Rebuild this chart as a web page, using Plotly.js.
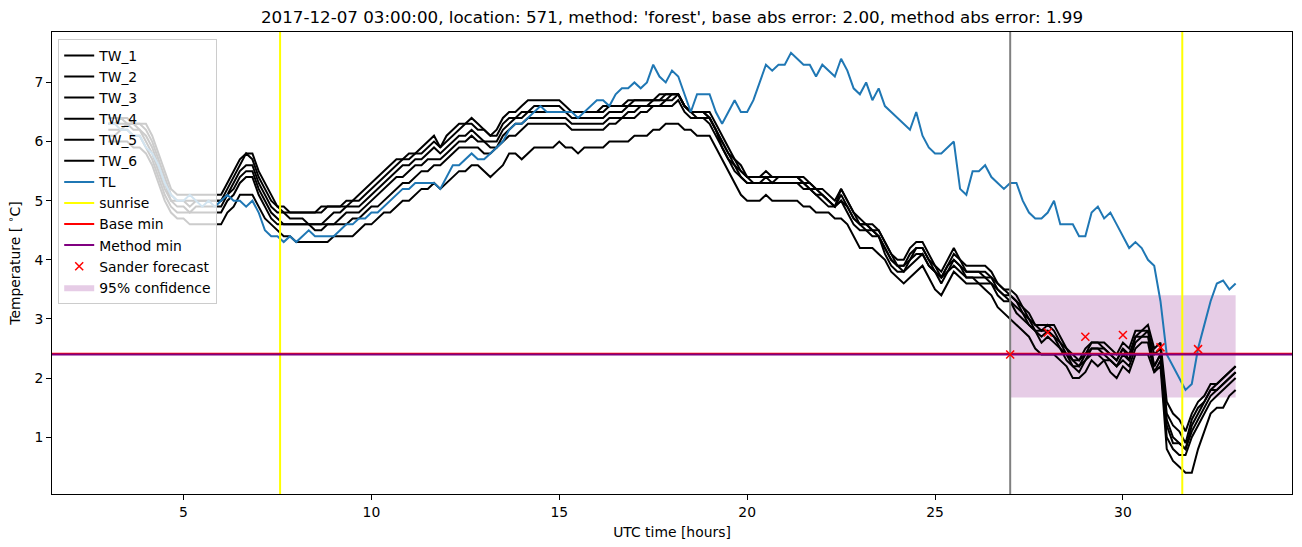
<!DOCTYPE html>
<html>
<head>
<meta charset="utf-8">
<script src="https://cdn.plot.ly/plotly-3.0.1.min.js"></script>
<style>html,body{margin:0;padding:0;background:#fff;}#chart{width:1302px;height:547px;}</style>
</head>
<body>
<div id="chart"></div>
<script>
// ---- data (10-minute samples from 03:00 to 33:00 UTC hours) ----
const START_HOUR = 3;
const STEP_HOURS = 1 / 6;

const TW_1 = [
6.4,6.4,6.4,6.4,6.3,6.3, 6.3,6.1,5.8,5.5,5.2,5.1, 5.1,5.1,5.1,5.1,5.1,5.1, 5.1,5.3,5.5,5.7,5.8,5.8,
5.5,5.3,5.1,4.9,4.9,4.8, 4.8,4.8,4.8,4.8,4.9,4.9, 4.9,4.9,5.0,5.0,5.1,5.2, 5.3,5.4,5.5,5.6,5.7,5.7,
5.8,5.8,5.9,6.0,6.1,5.9, 6.1,6.2,6.3,6.3,6.4,6.3, 6.2,6.1,6.2,6.4,6.5,6.5, 6.6,6.7,6.7,6.7,6.7,6.7,
6.7,6.6,6.5,6.5,6.5,6.5, 6.5,6.6,6.6,6.6,6.6,6.7, 6.7,6.7,6.7,6.7,6.8,6.8, 6.8,6.8,6.6,6.5,6.5,6.5,
6.5,6.3,6.1,5.9,5.7,5.6, 5.4,5.4,5.4,5.5,5.4,5.4, 5.4,5.4,5.4,5.4,5.3,5.2, 5.2,5.1,5.0,5.2,5.0,4.8,
4.7,4.6,4.6,4.5,4.3,4.1, 4.0,4.0,4.2,4.3,4.3,4.1, 3.9,3.8,4.0,4.2,4.0,3.9, 3.9,3.9,3.9,3.8,3.6,3.5,
3.5,3.4,3.2,3.1,2.9,2.9, 2.9,2.9,2.7,2.5,2.4,2.3, 2.5,2.6,2.6,2.6,2.5,2.4, 2.6,2.5,2.8,2.8,2.9,2.5,
2.6,1.6,1.4,1.3,1.1,1.4, 1.6,1.7,1.9,1.9,2.0,2.1, 2.2];
const TW_2 = [
6.3,6.3,6.4,6.3,6.3,6.3, 6.2,6.0,5.7,5.4,5.1,5.0, 5.0,5.0,5.0,5.0,5.0,5.0, 5.0,5.2,5.4,5.6,5.8,5.7,
5.4,5.2,5.0,4.9,4.8,4.8, 4.8,4.8,4.8,4.8,4.8,4.9, 4.9,4.9,4.9,5.0,5.0,5.1, 5.2,5.3,5.4,5.5,5.6,5.7,
5.7,5.8,5.8,5.9,6.0,5.9, 6.0,6.1,6.2,6.3,6.3,6.2, 6.2,6.1,6.1,6.3,6.4,6.4, 6.5,6.5,6.6,6.6,6.6,6.6,
6.6,6.5,6.5,6.5,6.5,6.5, 6.5,6.5,6.6,6.6,6.6,6.6, 6.7,6.7,6.7,6.7,6.7,6.8, 6.8,6.8,6.6,6.5,6.5,6.5,
6.4,6.2,6.0,5.8,5.7,5.5, 5.4,5.4,5.4,5.4,5.4,5.4, 5.4,5.4,5.4,5.3,5.3,5.2, 5.1,5.0,4.9,5.2,5.0,4.8,
4.6,4.6,4.5,4.5,4.3,4.1, 3.9,3.9,4.1,4.2,4.2,4.0, 3.9,3.7,3.9,4.1,4.0,3.8, 3.8,3.8,3.8,3.7,3.6,3.5,
3.4,3.3,3.2,3.0,2.9,2.8, 2.9,2.8,2.6,2.5,2.3,2.3, 2.4,2.6,2.6,2.5,2.4,2.3, 2.5,2.4,2.7,2.8,2.8,2.4,
2.5,1.4,1.2,1.1,0.9,1.3, 1.5,1.6,1.8,1.9,2.0,2.1, 2.2];
const TW_3 = [
6.3,6.3,6.3,6.3,6.3,6.2, 6.1,5.9,5.6,5.3,5.0,5.0, 5.0,4.9,5.0,5.0,5.0,5.0, 5.0,5.1,5.3,5.5,5.6,5.6,
5.3,5.1,4.9,4.8,4.8,4.7, 4.7,4.7,4.6,4.6,4.6,4.7, 4.8,4.8,4.9,4.9,4.9,5.0, 5.1,5.2,5.3,5.4,5.5,5.6,
5.6,5.7,5.7,5.8,5.9,5.8, 5.9,6.0,6.1,6.1,6.2,6.1, 6.0,6.0,6.0,6.2,6.3,6.4, 6.4,6.5,6.5,6.5,6.5,6.5,
6.5,6.5,6.4,6.4,6.4,6.4, 6.4,6.4,6.5,6.5,6.5,6.6, 6.6,6.6,6.6,6.7,6.7,6.7, 6.8,6.8,6.6,6.5,6.5,6.5,
6.4,6.2,6.0,5.8,5.6,5.5, 5.4,5.3,5.3,5.4,5.3,5.4, 5.4,5.4,5.4,5.3,5.2,5.2, 5.1,5.0,4.9,5.1,4.9,4.7,
4.6,4.6,4.5,4.4,4.2,4.0, 3.9,3.9,4.0,4.2,4.2,4.0, 3.8,3.7,3.9,4.0,3.9,3.8, 3.8,3.8,3.7,3.7,3.5,3.4,
3.4,3.3,3.1,3.0,2.8,2.8, 2.8,2.7,2.6,2.4,2.3,2.2, 2.4,2.5,2.5,2.5,2.4,2.3, 2.5,2.3,2.7,2.7,2.8,2.2,
2.4,1.3,1.0,0.9,0.8,1.2, 1.4,1.6,1.8,1.8,1.9,2.0, 2.1];
const TW_4 = [
6.2,6.2,6.2,6.3,6.2,6.2, 6.0,5.8,5.5,5.2,5.0,4.9, 4.9,4.8,4.9,4.9,4.9,4.9, 4.9,5.1,5.2,5.4,5.5,5.5,
5.2,5.0,4.8,4.7,4.6,4.6, 4.6,4.6,4.6,4.6,4.6,4.6, 4.6,4.7,4.8,4.8,4.8,4.9, 5.0,5.1,5.2,5.3,5.4,5.4,
5.5,5.6,5.6,5.7,5.7,5.7, 5.8,5.9,6.0,6.0,6.1,6.0, 6.0,5.9,5.9,6.1,6.2,6.3, 6.3,6.4,6.4,6.4,6.4,6.4,
6.4,6.4,6.3,6.3,6.3,6.3, 6.3,6.3,6.4,6.4,6.4,6.5, 6.5,6.6,6.6,6.6,6.6,6.7, 6.7,6.8,6.6,6.5,6.4,6.4,
6.4,6.2,5.9,5.7,5.6,5.4, 5.3,5.3,5.3,5.3,5.3,5.3, 5.3,5.3,5.3,5.3,5.2,5.1, 5.1,5.0,4.9,5.0,4.9,4.7,
4.6,4.5,4.5,4.4,4.2,4.0, 3.9,3.8,4.0,4.1,4.1,3.9, 3.8,3.7,3.8,4.0,3.9,3.7, 3.7,3.7,3.7,3.6,3.5,3.4,
3.3,3.2,3.1,2.9,2.8,2.7, 2.8,2.7,2.5,2.4,2.2,2.2, 2.3,2.5,2.5,2.4,2.3,2.2, 2.4,2.3,2.6,2.7,2.7,2.2,
2.4,1.2,0.9,0.9,0.8,1.1, 1.3,1.5,1.7,1.8,1.9,2.0, 2.1];
const TW_5 = [
6.1,6.1,6.2,6.2,6.1,6.1, 5.9,5.7,5.4,5.1,4.9,4.8, 4.8,4.8,4.8,4.8,4.8,4.8, 4.8,5.0,5.1,5.3,5.4,5.4,
5.1,4.9,4.7,4.6,4.6,4.6, 4.6,4.6,4.6,4.5,4.5,4.6, 4.6,4.6,4.6,4.7,4.7,4.8, 4.9,4.9,5.0,5.1,5.2,5.3,
5.3,5.4,5.5,5.5,5.6,5.6, 5.7,5.8,5.9,5.9,5.9,5.9, 5.8,5.8,5.9,6.0,6.1,6.1, 6.2,6.3,6.3,6.3,6.3,6.3,
6.3,6.3,6.2,6.2,6.2,6.2, 6.2,6.2,6.3,6.3,6.4,6.4, 6.4,6.5,6.5,6.6,6.6,6.6, 6.6,6.7,6.5,6.4,6.4,6.4,
6.3,6.1,5.9,5.7,5.5,5.4, 5.3,5.3,5.3,5.3,5.3,5.3, 5.3,5.3,5.3,5.2,5.2,5.1, 5.0,4.9,4.9,5.0,4.8,4.6,
4.5,4.5,4.4,4.4,4.1,3.9, 3.8,3.8,3.9,4.0,4.1,3.9, 3.8,3.6,3.8,3.9,3.8,3.7, 3.7,3.6,3.6,3.6,3.4,3.3,
3.3,3.1,3.0,2.9,2.8,2.6, 2.7,2.6,2.5,2.3,2.2,2.1, 2.3,2.4,2.4,2.3,2.3,2.2, 2.3,2.2,2.5,2.6,2.6,2.1,
2.3,1.0,0.8,0.7,0.7,1.0, 1.2,1.4,1.6,1.7,1.8,1.9, 2.0];
const TW_6 = [
6.0,6.0,6.0,6.0,5.9,5.9, 5.8,5.6,5.3,5.0,4.8,4.7, 4.7,4.6,4.6,4.6,4.6,4.6, 4.6,4.8,4.9,5.1,5.1,5.1,
4.9,4.7,4.6,4.5,4.4,4.4, 4.3,4.3,4.3,4.3,4.3,4.3, 4.4,4.4,4.4,4.4,4.5,4.6, 4.6,4.7,4.8,4.8,4.9,5.0,
5.0,5.1,5.2,5.2,5.3,5.2, 5.3,5.4,5.5,5.5,5.6,5.6, 5.5,5.4,5.5,5.6,5.8,5.8, 5.7,5.8,5.9,5.9,5.9,5.9,
6.0,5.9,5.9,5.8,5.9,5.9, 5.9,5.9,6.0,6.0,6.0,6.0, 6.1,6.1,6.1,6.2,6.2,6.3, 6.3,6.3,6.2,6.2,6.1,6.1,
6.1,5.9,5.7,5.5,5.3,5.1, 5.0,5.0,5.0,5.1,5.0,5.0, 5.0,5.0,5.0,4.9,4.9,4.8, 4.8,4.8,4.7,4.7,4.6,4.4,
4.2,4.2,4.2,4.1,4.0,3.8, 3.7,3.6,3.7,3.8,3.9,3.7, 3.5,3.4,3.6,3.8,3.7,3.6, 3.6,3.6,3.5,3.4,3.2,3.1,
3.0,2.9,2.8,2.7,2.5,2.4, 2.4,2.4,2.3,2.2,2.0,2.0, 2.1,2.3,2.2,2.3,2.1,2.0, 2.2,2.1,2.4,2.4,2.4,2.1,
2.2,0.8,0.6,0.5,0.4,0.4, 0.8,1.1,1.4,1.5,1.5,1.7, 1.8];
const TL = [
6.3,6.3,6.2,6.2,6.1,6.1, 5.9,5.8,5.6,5.3,5.1,5.0, 5.0,5.1,5.0,4.9,5.0,4.9, 5.0,5.1,5.0,5.0,4.9,5.0,
4.8,4.5,4.4,4.4,4.3,4.4, 4.3,4.4,4.5,4.4,4.4,4.4, 4.4,4.5,4.6,4.6,4.7,4.7, 4.8,4.8,4.9,5.0,5.1,5.2,
5.2,5.3,5.3,5.3,5.3,5.2, 5.4,5.6,5.6,5.7,5.8,5.7, 5.7,5.8,5.9,6.0,6.2,6.3, 6.3,6.4,6.5,6.6,6.5,6.5,
6.5,6.5,6.5,6.4,6.5,6.6, 6.7,6.7,6.6,6.8,6.9,6.9, 7.0,6.9,7.0,7.3,7.1,7.0, 7.2,7.1,6.8,6.5,6.8,6.8,
6.8,6.5,6.3,6.5,6.7,6.5, 6.5,6.7,7.0,7.3,7.2,7.3, 7.3,7.5,7.4,7.3,7.3,7.1, 7.3,7.2,7.1,7.4,7.2,6.9,
6.8,7.0,6.7,6.9,6.6,6.5, 6.4,6.3,6.2,6.5,6.1,5.9, 5.8,5.8,5.9,6.0,5.2,5.1, 5.5,5.5,5.6,5.4,5.3,5.2,
5.3,5.3,5.0,4.8,4.7,4.7, 4.8,5.0,4.6,4.6,4.6,4.4, 4.4,4.8,4.9,4.7,4.8,4.6, 4.4,4.2,4.3,4.2,4.0,3.9,
3.3,2.4,2.2,2.0,1.8,1.9, 2.5,2.9,3.3,3.6,3.65,3.5, 3.6];

const TW_NAMES = ['TW_1', 'TW_2', 'TW_3', 'TW_4', 'TW_5', 'TW_6'];
const SUNRISE_HOURS = [7.57, 31.58];
const FORECAST_START_HOUR = [27];
const BASE_MIN = [2.41];
const METHOD_MIN = [2.40];
const SANDER_HOURS = [27, 28, 29, 30, 31, 32];
const SANDER_VALUES = [2.40, 2.77, 2.70, 2.73, 2.52, 2.49];
const CONF_HOURS = [27, 33];
const CONF_LOW = [1.67, 1.67];
const CONF_HIGH = [3.4, 3.4];
const X_TICKS = [5, 10, 15, 20, 25, 30];
const Y_TICKS = [1, 2, 3, 4, 5, 6, 7];
const TITLE = "2017-12-07 03:00:00, location: 571, method: 'forest', base abs error: 2.00, method abs error: 1.99";

// ---- build traces ----
const X_RANGE = [1.5, 34.5];
const Y_RANGE = [0.04, 7.853];
const hours = TL.map((_, i) => START_HOUR + i * STEP_HOURS);
const FONT = 'DejaVu Sans, sans-serif';
const FS = 13.9;

const traces = [];
// 95% confidence band (drawn first, listed last)
traces.push({
  x: CONF_HOURS.concat(CONF_HOURS.slice().reverse()),
  y: CONF_LOW.concat(CONF_HIGH.slice().reverse()),
  fill: 'toself', fillcolor: 'rgba(128,0,128,0.2)', line: {width: 0},
  mode: 'lines', name: '95% confidence', legendrank: 12, hoverinfo: 'skip'
});
[TW_1, TW_2, TW_3, TW_4, TW_5, TW_6].forEach((s, k) => {
  traces.push({x: hours, y: s, mode: 'lines', name: TW_NAMES[k],
    line: {color: 'black', width: 2}, legendrank: k + 1});
});
traces.push({x: hours, y: TL, mode: 'lines', name: 'TL',
  line: {color: '#1f77b4', width: 2}, legendrank: 7});
// sunrise vertical lines
const sx = [], sy = [];
SUNRISE_HOURS.forEach(h => { sx.push(h, h, null); sy.push(Y_RANGE[0], Y_RANGE[1], null); });
traces.push({x: sx, y: sy, mode: 'lines', name: 'sunrise',
  line: {color: '#ffff00', width: 2}, legendrank: 8});
traces.push({x: X_RANGE, y: [BASE_MIN[0], BASE_MIN[0]], mode: 'lines', name: 'Base min',
  line: {color: 'red', width: 2}, legendrank: 9});
traces.push({x: X_RANGE, y: [METHOD_MIN[0], METHOD_MIN[0]], mode: 'lines', name: 'Method min',
  line: {color: 'purple', width: 2}, legendrank: 10});
traces.push({x: [FORECAST_START_HOUR[0], FORECAST_START_HOUR[0]], y: Y_RANGE, mode: 'lines',
  line: {color: 'grey', width: 2}, showlegend: false});
traces.push({x: SANDER_HOURS, y: SANDER_VALUES, mode: 'markers', name: 'Sander forecast',
  marker: {symbol: 'x-thin', size: 8, color: 'red', line: {color: 'red', width: 1.5}}, legendrank: 11});

const axisCommon = {
  showline: true, mirror: true, linecolor: 'black', linewidth: 1,
  ticks: 'outside', ticklen: 5, tickwidth: 1, tickcolor: 'black',
  showgrid: false, zeroline: false,
  tickfont: {family: FONT, size: FS, color: 'black'}
};

const layout = {
  width: 1302, height: 547,
  margin: {l: 52, r: 10, t: 32, b: 53},
  paper_bgcolor: 'white', plot_bgcolor: 'white',
  font: {family: FONT, color: 'black'},
  title: {text: TITLE, x: 0.5, xref: 'paper', xanchor: 'center',
    y: 1 - 17 / 547, yref: 'container', yanchor: 'middle',
    font: {family: FONT, size: 16.7, color: 'black'}},
  xaxis: Object.assign({}, axisCommon, {range: X_RANGE, tickvals: X_TICKS,
    title: {text: 'UTC time [hours]', font: {family: FONT, size: FS, color: 'black'}, standoff: 8}}),
  yaxis: Object.assign({}, axisCommon, {range: Y_RANGE, tickvals: Y_TICKS,
    title: {text: 'Temperature [ <sup>∘</sup>C]', font: {family: FONT, size: FS, color: 'black'}, standoff: 10}}),
  showlegend: true,
  legend: {x: 0.005, y: 0.985, xanchor: 'left', yanchor: 'top',
    bgcolor: 'rgba(255,255,255,0.8)', bordercolor: '#cccccc', borderwidth: 1,
    font: {family: FONT, size: FS, color: 'black'}}
};

Plotly.newPlot('chart', traces, layout, {displayModeBar: false, responsive: false});
</script>
</body>
</html>
